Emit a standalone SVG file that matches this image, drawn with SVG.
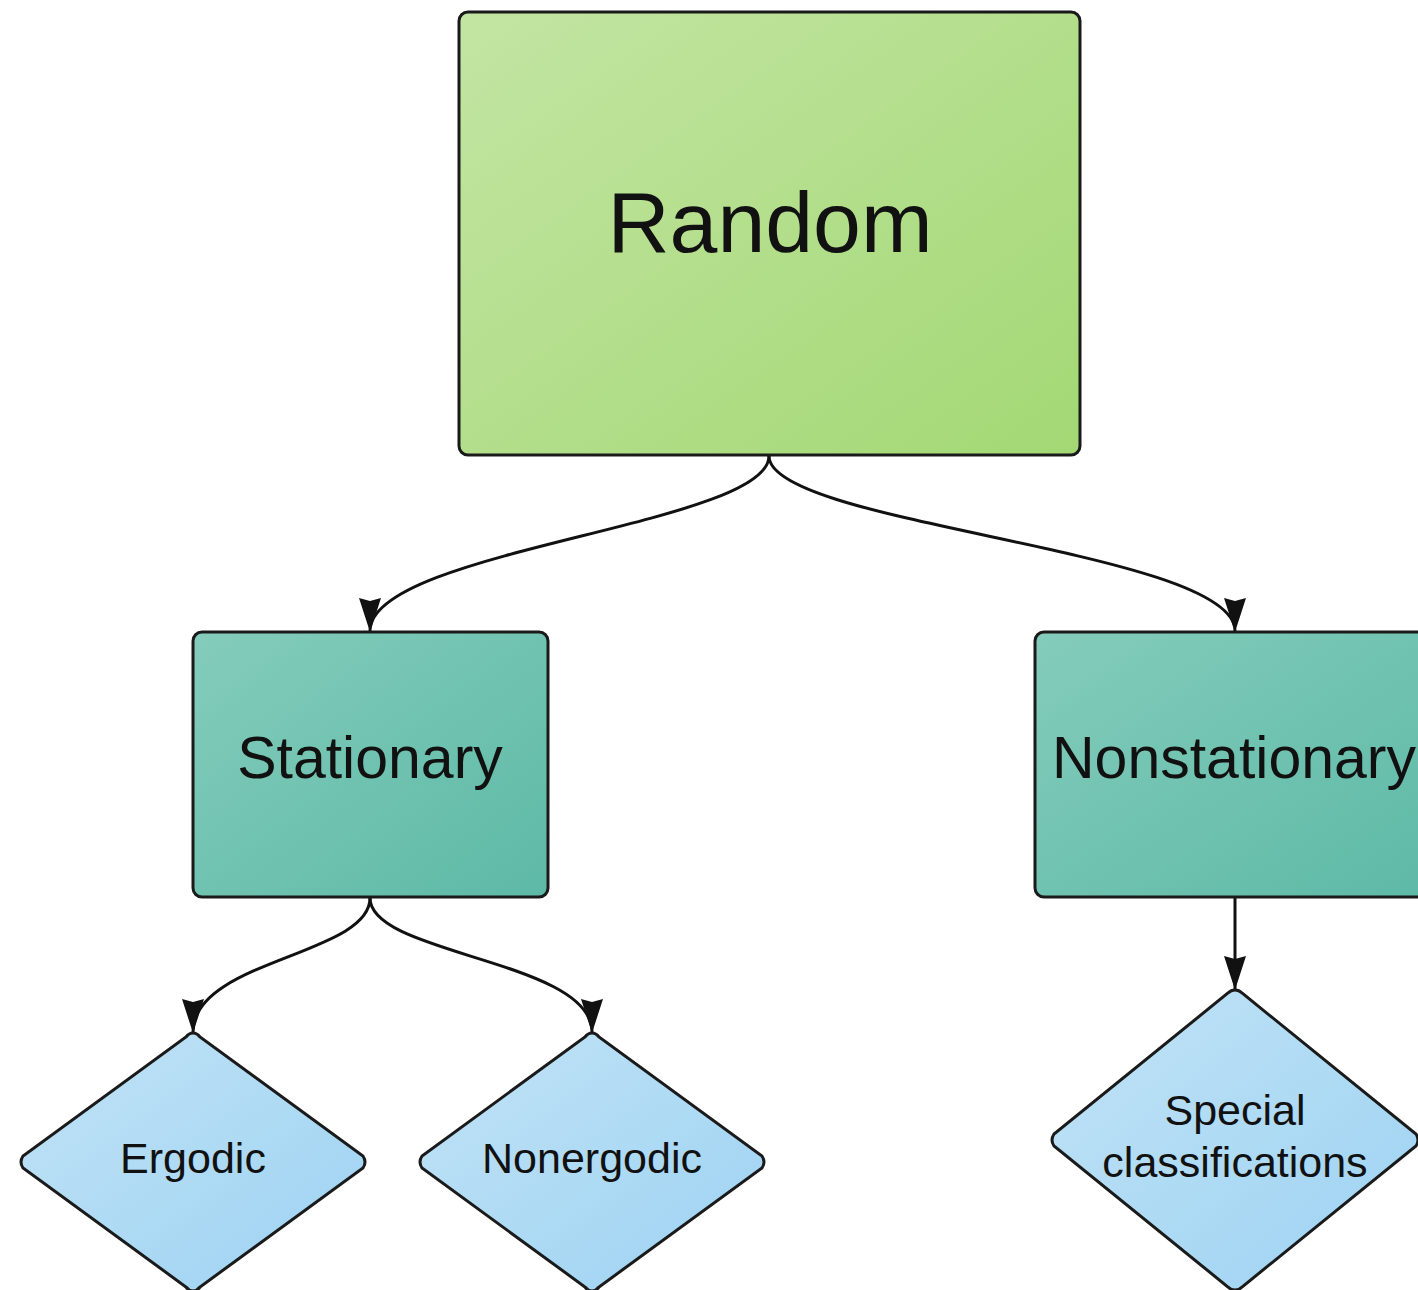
<svg xmlns="http://www.w3.org/2000/svg" width="1418" height="1290" viewBox="0 0 1418 1290">
<defs>
<linearGradient id="gGreen" x1="0" y1="0" x2="1" y2="1">
<stop offset="0" stop-color="#c3e5a3"/><stop offset="1" stop-color="#a3d874"/>
</linearGradient>
<linearGradient id="gTeal" x1="0" y1="0" x2="1" y2="1">
<stop offset="0" stop-color="#84ccbb"/><stop offset="1" stop-color="#5db9a6"/>
</linearGradient>
<linearGradient id="gBlue" x1="0" y1="0" x2="1" y2="1">
<stop offset="0" stop-color="#c2e3f6"/><stop offset="1" stop-color="#9cd2f2"/>
</linearGradient>
<marker id="arrow" viewBox="0 0 34 24" refX="33" refY="12" markerWidth="34" markerHeight="24" markerUnits="userSpaceOnUse" orient="auto">
<path d="M0,1 L34,12 L0,23 L3,12 Z" fill="#111"/>
</marker>
</defs>
<style>
.node rect, .node path { stroke: #1a1a1a; stroke-width: 3; }
.lbl { font-family: "Liberation Sans", Arial, sans-serif; fill: #111; text-anchor: middle; }
.conn path { fill: none; stroke: #111; stroke-width: 3; marker-end: url(#arrow); }
</style>
<rect width="1418" height="1290" fill="#ffffff"/>
<g id="connectors" class="conn">
<path d="M769,456 C769,525 370,550 370,631"/>
<path d="M769,456 C769,525 1235,550 1235,631"/>
<path d="M370,898 C370,955 193,960 193,1032"/>
<path d="M370,898 C370,955 592,960 592,1032"/>
<path d="M1235,898 L1235,989"/>
</g>
<g id="node-random" class="node">
<rect x="459" y="12" width="621" height="443" rx="9" fill="url(#gGreen)"/>
<text class="lbl" x="770" y="252" font-size="86">Random</text>
</g>
<g id="node-stationary" class="node">
<rect x="193" y="632" width="355" height="265" rx="9" fill="url(#gTeal)"/>
<text class="lbl" x="370" y="778" font-size="59">Stationary</text>
</g>
<g id="node-nonstationary" class="node">
<rect x="1035" y="632" width="400" height="265" rx="9" fill="url(#gTeal)"/>
<text class="lbl" x="1234" y="778" font-size="59">Nonstationary</text>
</g>
<g id="node-ergodic" class="node">
<path d="M193,1033 Q197,1033 200,1037 L363,1156 Q367,1162 363,1168 L200,1287 Q197,1291 193,1291 Q189,1291 186,1287 L23,1168 Q19,1162 23,1156 L186,1037 Q189,1033 193,1033 Z" fill="url(#gBlue)"/>
<text class="lbl" x="193" y="1173" font-size="43">Ergodic</text>
</g>
<g id="node-nonergodic" class="node">
<path d="M592,1033 Q596,1033 599,1037 L762,1156 Q766,1162 762,1168 L599,1287 Q596,1291 592,1291 Q588,1291 585,1287 L422,1168 Q418,1162 422,1156 L585,1037 Q588,1033 592,1033 Z" fill="url(#gBlue)"/>
<text class="lbl" x="592" y="1173" font-size="43">Nonergodic</text>
</g>
<g id="node-special" class="node">
<path d="M1235,990 Q1239,990 1242,993 L1416,1134 Q1420,1140 1416,1146 L1242,1287 Q1239,1290 1235,1290 Q1231,1290 1228,1287 L1054,1146 Q1050,1140 1054,1134 L1228,993 Q1231,990 1235,990 Z" fill="url(#gBlue)"/>
<text class="lbl" x="1235" y="1125" font-size="43">Special</text>
<text class="lbl" x="1235" y="1177" font-size="43">classifications</text>
</g>
</svg>
